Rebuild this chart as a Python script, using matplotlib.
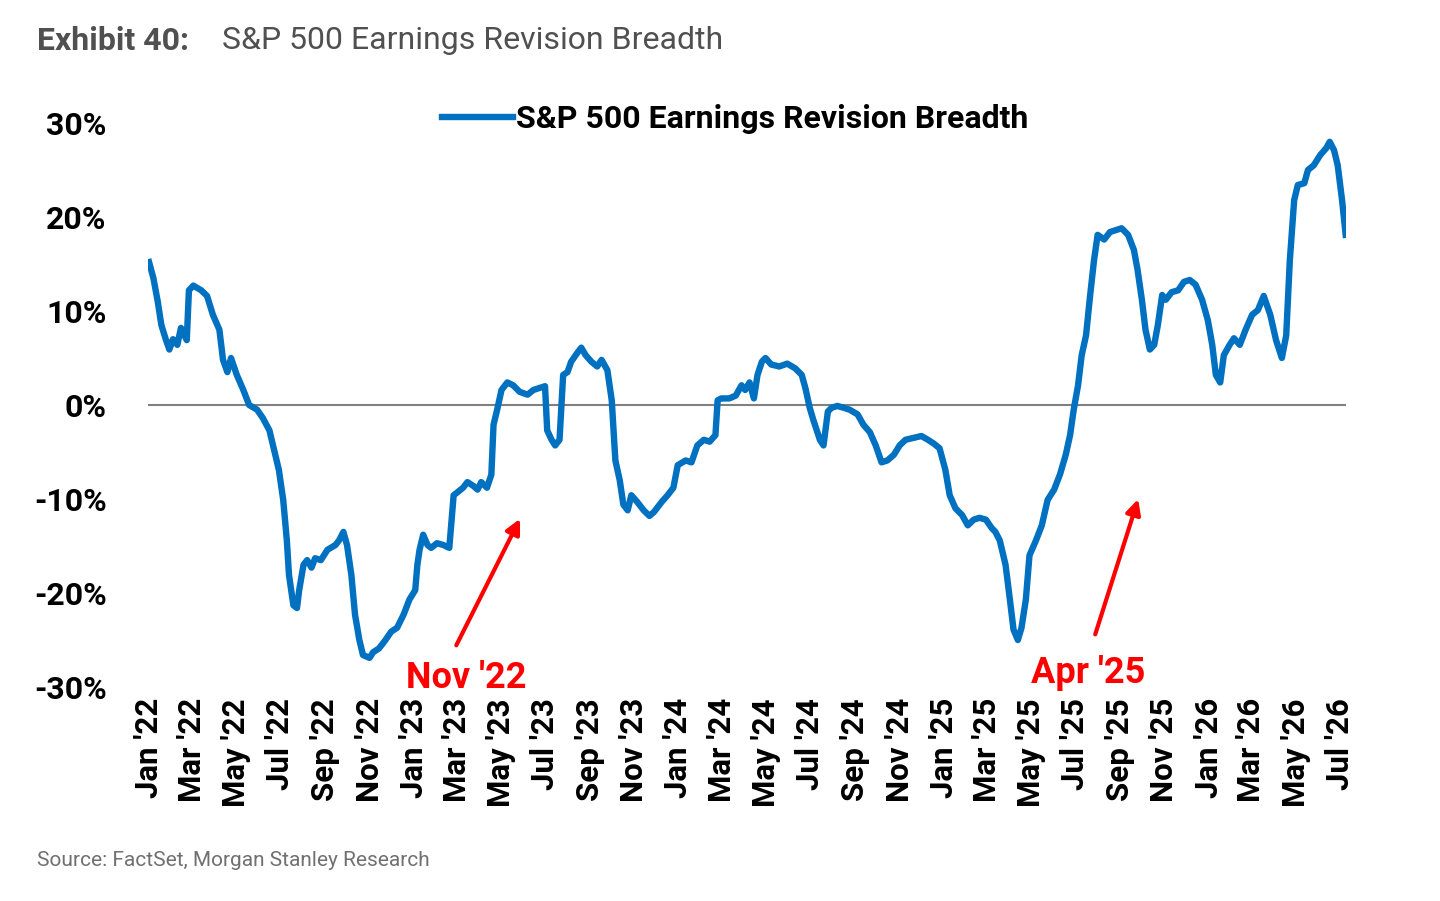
import matplotlib
matplotlib.use("Agg")
import matplotlib.pyplot as plt
import matplotlib.dates as mdates
import numpy as np
import pandas as pd

start = pd.Timestamp("2022-01-01")
day_offsets = [0,6,12,17,23,28,33,39,44,52,55,61,72,80,88,97,102,108,113,121,130,138,149,157,166,171,179,185,190,193,199,204,207,213,218,224,229,237,246,257,262,268,273,279,284,290,295,304,309,317,326,334,342,351,359,367,370,373,378,384,389,397,406,414,420,425,433,439,447,453,458,466,472,475,480,486,494,502,511,522,530,538,546,549,555,560,566,571,577,582,591,596,602,610,618,624,632,638,643,649,654,660,665,673,682,690,696,707,715,723,729,740,748,756,765,773,781,784,789,800,809,817,822,828,834,839,845,850,858,869,880,891,900,905,911,916,925,930,936,941,949,958,966,977,985,994,1002,1010,1018,1027,1035,1043,1054,1065,1074,1082,1090,1098,1104,1112,1121,1129,1137,1145,1154,1162,1167,1173,1181,1187,1192,1198,1203,1209,1214,1223,1231,1239,1248,1256,1264,1270,1275,1281,1286,1292,1297,1303,1308,1317,1325,1333,1341,1350,1358,1363,1369,1374,1380,1386,1391,1397,1402,1410,1419,1427,1435,1443,1452,1460,1466,1471,1477,1482,1490,1496,1504,1512,1521,1529,1537,1546,1554,1562,1568,1573,1579,1584,1593,1598,1606,1615,1623,1628,1634,1639,1645,1650]
breadth = [15.2,13.5,11,8.5,7,5.9,7,6.4,8.2,6.9,12.2,12.7,12.2,11.6,9.6,8,4.8,3.5,5,3.2,1.6,0,-0.5,-1.4,-2.7,-4.3,-6.9,-10.1,-14.4,-18.1,-21.3,-21.6,-19.7,-17,-16.5,-17.3,-16.3,-16.5,-15.4,-14.9,-14.4,-13.5,-14.9,-18.1,-22.3,-25,-26.6,-26.9,-26.3,-25.9,-25,-24.1,-23.7,-22.3,-20.7,-19.7,-17,-15.4,-13.8,-14.9,-15.2,-14.7,-14.9,-15.2,-9.6,-9.3,-8.8,-8.2,-8.6,-9,-8.2,-8.8,-7.4,-2.1,-0.5,1.6,2.4,2.1,1.4,1.1,1.6,1.8,2,-2.7,-3.7,-4.3,-3.7,3.2,3.5,4.6,5.6,6.1,5.3,4.6,4.1,4.8,3.7,0.5,-5.9,-8,-10.6,-11.2,-9.6,-10.3,-11.2,-11.8,-11.4,-10.3,-9.6,-8.8,-6.4,-5.9,-6.1,-4.3,-3.7,-3.9,-3.2,0.5,0.7,0.7,1,2.1,1.6,2.4,0.7,3.2,4.6,5,4.3,4.1,4.4,3.9,3.2,1.8,-0.3,-1.6,-3.7,-4.3,-0.7,-0.3,-0.1,-0.3,-0.5,-1,-2.1,-2.9,-4.3,-6.1,-5.9,-5.3,-4.3,-3.7,-3.5,-3.3,-3.7,-4.1,-4.6,-6.9,-9.6,-11,-11.7,-12.8,-12.2,-12,-12.2,-13.1,-13.5,-14.4,-17,-20.7,-23.9,-25,-23.7,-20.7,-16,-14.4,-12.8,-10.1,-9,-7.4,-5.3,-3.2,-0.5,2.1,5.3,7.4,11.2,15.4,18.1,17.6,18.4,18.6,18.8,18.1,16.5,14.4,11.2,8,5.9,6.4,8.5,11.7,11.2,12,12.2,13.1,13.3,12.8,11.2,9,6.4,3.2,2.4,5.3,6.4,7.1,6.4,8,9.6,10.1,11.6,9.6,6.9,5,7.4,15.4,21.8,23.4,23.6,25,25.5,26.6,27.3,28,27.1,25.5,21.8,18.1]
dates = start + pd.to_timedelta(day_offsets, unit="D")

plt.rcParams['font.family'] = ['Roboto', 'DejaVu Sans']
fig = plt.figure(figsize=(14.4, 9.01), dpi=100)
ax = fig.add_axes([0.103, 0.2375, 0.832, 0.626])
ax.plot(dates, breadth, color="#0070C0", lw=4.6, label="S&P 500 Earnings Revision Breadth", solid_joinstyle="round")
ax.axhline(0, color="#808080", lw=1.5, zorder=0)
ax.set_ylim(-30, 30)
ax.set_xlim(pd.Timestamp("2021-12-31"), pd.Timestamp("2026-07-10"))
ax.set_yticks(np.arange(-30, 31, 10))
ax.set_yticklabels([f"{v}%" for v in range(-30, 31, 10)], fontsize=23, fontweight="bold")
ax.xaxis.set_major_locator(mdates.MonthLocator(bymonth=[1,3,5,7,9,11]))
ax.xaxis.set_major_formatter(mdates.DateFormatter("%b '%y"))
for t in ax.get_xticklabels():
    t.set_rotation(90); t.set_fontsize(22.5); t.set_fontweight("bold")
ax.tick_params(length=0, pad=8)
ax.tick_params(axis="y", pad=30)
for s in ax.spines.values():
    s.set_visible(False)
leg = ax.legend(loc="upper center", bbox_to_anchor=(0.49, 1.085), frameon=False, fontsize=23,
                handlelength=2.2, handletextpad=0.1)
for t in leg.get_texts():
    t.set_fontweight("bold")

fig.text(0.026, 0.955, "Exhibit 40:", fontsize=23, fontweight="bold", color="#505050", va="center")
fig.text(0.154, 0.955, "S&P 500 Earnings Revision Breadth", fontsize=23, color="#505050", va="center")
fig.text(0.026, 0.045, "Source: FactSet, Morgan Stanley Research", fontsize=15, color="#707070", va="center")

red = "#FF0000"
fig.text(0.324, 0.247, "Nov '22", color=red, fontsize=26, fontweight="bold", ha="center", va="center")
fig.text(0.756, 0.253, "Apr '25", color=red, fontsize=26, fontweight="bold", ha="center", va="center")
for (x0, y0, x1, y1) in [(0.316, 0.281, 0.362, 0.427), (0.760, 0.293, 0.791, 0.449)]:
    fig.add_artist(matplotlib.patches.FancyArrowPatch((x0, y0), (x1, y1), transform=fig.transFigure,
                   arrowstyle="-|>", mutation_scale=22, color=red, lw=3))
fig.savefig("out.png", dpi=100)
